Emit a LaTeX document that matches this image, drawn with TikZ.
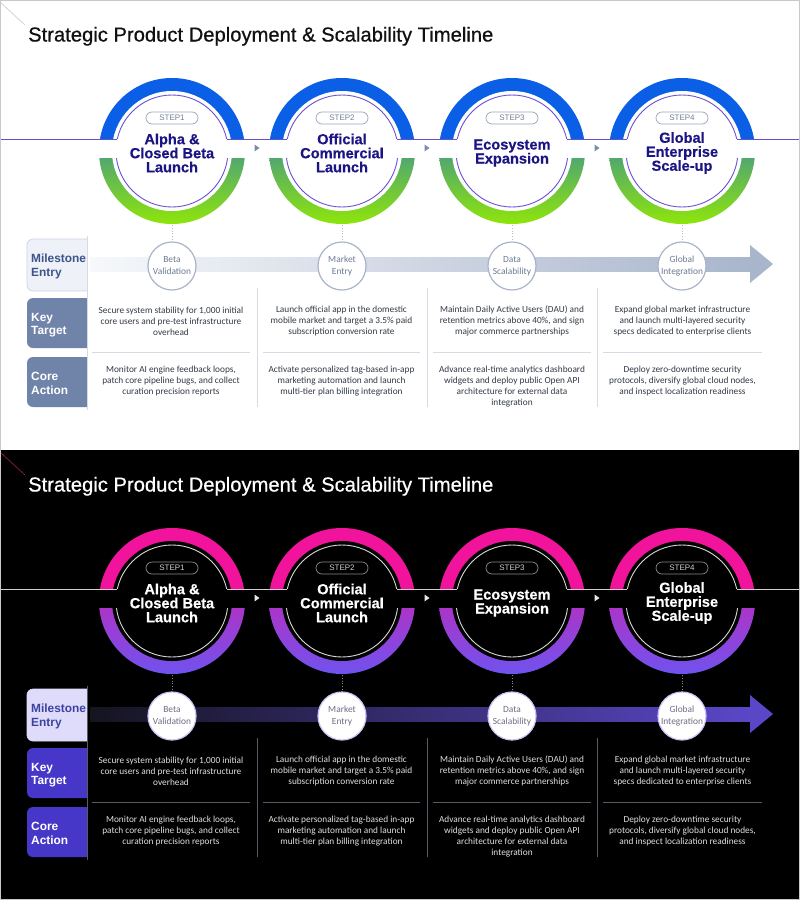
\documentclass[tikz,border=0pt]{standalone}
\usepackage{fontspec}
\setmainfont{Liberation Sans}
\newfontfamily\bodyfont{Carlito}
\newfontfamily\titlefont{Liberation Sans}[FakeBold=0.6]
\newfontfamily\headfont{Liberation Sans Bold}[FakeBold=0.4]

\tikzset{
  pill/.style={draw=pPill, line width=0.7pt, rounded corners=6pt, minimum width=52pt, minimum height=12pt, inner sep=0pt, text=pPillText, font=\fontsize{8}{9}\selectfont},
  ctitle/.style={align=center, inner sep=0pt, text=pHead, font=\headfont\fontsize{14.6}{14}\selectfont},
  mscircle/.style={circle, draw=pMsDraw, line width=1.2pt, fill=white, minimum size=48pt, inner sep=0pt, align=center, text=pMsText, font=\bodyfont\fontsize{9.4}{12}\selectfont},
  labtext/.style={anchor=west, align=left, inner sep=0pt, font=\bfseries\fontsize{11.9}{13.5}\selectfont},
  body/.style={align=center, inner sep=0pt, text=pBody, font=\bodyfont\fontsize{9.3}{11}\selectfont},
  sepline/.style={draw=pSep, line width=0.8pt},
  tline/.style={draw=pLine, line width=0.9pt},
}

\newcommand\drawpanel{%
  \fill[pBg] (0,0) rectangle (800,450);
  \draw[pDiag, line width=0.8pt] (0,2) -- (25,25);
  \node[anchor=base west, inner sep=0pt, text=pTitle, font=\titlefont\fontsize{20.2}{24}\selectfont] (title) at (28,41.5) {Strategic Product Deployment \& Scalability Timeline};
  % rings
  \foreach \i/\cx in {1/172,2/342,3/512,4/682}{
    \coordinate (c\i) at (\cx,151);
    \begin{scope}
      \clip (\cx-80,60) rectangle (\cx+80,151);
      \fill[pRingTop] (c\i) circle[radius=73];
    \end{scope}
    \begin{scope}
      \clip (\cx-80,151) rectangle (\cx+80,240);
      \shade[top color=pRingTop, middle color=pRingMid, bottom color=pRingBot] (c\i) circle[radius=73];
    \end{scope}
    \fill[pBg] (c\i) circle[radius=60];
    \draw[pInner, line width=0.9pt] (c\i) circle[radius=56];
  }
  \fill[pBg] (90,139) rectangle (770,158);
  % timeline line
  \coordinate (L0) at (0,139);
  \coordinate (R5) at (800,139);
  \foreach \i/\cx in {1/172,2/342,3/512,4/682}{
    \coordinate (L\i) at (\cx-55,139);
    \coordinate (R\i) at (\cx+55,139);
  }
  \draw[tline] (L0) -- (L1);
  \draw[tline] (R1) -- (L2);
  \draw[tline] (R2) -- (L3);
  \draw[tline] (R3) -- (L4);
  \draw[tline] (R4) -- (R5);
  \foreach \tx in {257,427,597}{
    \fill[pTri] (\tx-2.5,144.5) -- (\tx+2.5,148) -- (\tx-2.5,151.5) -- cycle;
  }
  % step pills
  \foreach \i/\cx in {1/172,2/342,3/512,4/682}{
    \node[pill] (s\i) at (\cx,118) {STEP\i};
  }
  \node[ctitle] (t1) at (172,153) {Alpha \&\\Closed Beta\\Launch};
  \node[ctitle] (t2) at (342,153) {Official\\Commercial\\Launch};
  \node[ctitle] (t3) at (512,153) {Ecosystem\\Expansion};
  \node[ctitle] (t4) at (682,153) {Global\\Enterprise\\Scale-up};
  % milestone band
  \shade[left color=pBandL, right color=pBandR] (90,257) rectangle (752,271);
  \fill[pBandR] (750,245) -- (773,264) -- (750,283) -- cycle;
  \node[mscircle] (m1) at (172,266) {Beta\\Validation};
  \node[mscircle] (m2) at (342,266) {Market\\Entry};
  \node[mscircle] (m3) at (512,266) {Data\\Scalability};
  \node[mscircle] (m4) at (682,266) {Global\\Integration};
  \foreach \i in {1,2,3,4}{
    \coordinate (b\i) at ($(c\i)+(0,74)$);
    \draw[pDot, line width=0.8pt, dotted] (b\i) -- (m\i.north);
  }
  % label boxes
  \begin{scope}
    \clip (0,200) rectangle (87,420);
    \draw[fill=pLabAFill, draw=pLabADraw, line width=0.7pt, rounded corners=6pt] (27,239) rectangle (100,291);
    \fill[pLabBFill, rounded corners=6pt] (27,298) rectangle (100,348);
    \fill[pLabBFill, rounded corners=6pt] (27,357) rectangle (100,407);
  \end{scope}
  \node[labtext, text=pLabAText] (lab1) at (31,266.5) {Milestone\\Entry};
  \node[labtext, text=pLabBText] (lab2) at (31,325) {Key\\Target};
  \node[labtext, text=pLabBText] (lab3) at (31,383.5) {Core\\Action};
  \draw[sepline] (87,236) -- (87,410);
  \foreach \sx in {257,427,597}{
    \draw[sepline] (\sx,288) -- (\sx,407);
  }
  \foreach \xa/\xb in {92/250,263/420,433/591,603/762}{
    \draw[sepline] (\xa,352) -- (\xb,352);
  }
  % key targets
  \node[body] (k1) at (171,321) {Secure system stability for 1,000 initial\\core users and pre-test infrastructure\\overhead};
  \node[body] (k2) at (341.5,321) {Launch official app in the domestic\\mobile market and target a 3.5\% paid\\subscription conversion rate};
  \node[body] (k3) at (512,321) {Maintain Daily Active Users (DAU) and\\retention metrics above 40\%, and sign\\major commerce partnerships};
  \node[body] (k4) at (682.5,321) {Expand global market infrastructure\\and launch multi-layered security\\specs dedicated to enterprise clients};
  % core actions
  \node[body, anchor=north] (a1) at (171,366) {Monitor AI engine feedback loops,\\patch core pipeline bugs, and collect\\curation precision reports};
  \node[body, anchor=north] (a2) at (341.5,366) {Activate personalized tag-based in-app\\marketing automation and launch\\multi-tier plan billing integration};
  \node[body, anchor=north] (a3) at (512,366) {Advance real-time analytics dashboard\\widgets and deploy public Open API\\architecture for external data\\integration};
  \node[body, anchor=north] (a4) at (682.5,366) {Deploy zero-downtime security\\protocols, diversify global cloud nodes,\\and inspect localization readiness};
}

\usetikzlibrary{calc}

\begin{document}
\begin{tikzpicture}[x=1pt,y=-1pt]
\useasboundingbox (0,0) rectangle (800,900);
% ---------- light panel ----------
\begin{scope}[name prefix=L-]
\definecolor{pBg}{HTML}{FFFFFF}
\definecolor{pDiag}{HTML}{D4D4D8}
\definecolor{pTitle}{HTML}{111111}
\definecolor{pRingTop}{HTML}{0B5FE6}
\definecolor{pRingMid}{HTML}{4EB25A}
\definecolor{pRingBot}{HTML}{8EE50A}
\definecolor{pInner}{HTML}{6A50D6}
\definecolor{pLine}{HTML}{6652C8}
\definecolor{pTri}{HTML}{7C8CAE}
\definecolor{pPill}{HTML}{9BA6BB}
\definecolor{pPillText}{HTML}{737E94}
\definecolor{pHead}{HTML}{1B1584}
\definecolor{pBandL}{HTML}{F6F8FB}
\definecolor{pBandR}{HTML}{A8B5CB}
\definecolor{pMsDraw}{HTML}{A9B4C9}
\definecolor{pMsText}{HTML}{6B7A93}
\definecolor{pDot}{HTML}{B4BCC8}
\definecolor{pLabAFill}{HTML}{EEF1F8}
\definecolor{pLabADraw}{HTML}{CDD4E2}
\definecolor{pLabAText}{HTML}{3C5488}
\definecolor{pLabBFill}{HTML}{7083A9}
\definecolor{pLabBText}{HTML}{FFFFFF}
\definecolor{pBody}{HTML}{333A45}
\definecolor{pSep}{HTML}{D6DBE3}
\drawpanel
\end{scope}
% ---------- dark panel ----------
\begin{scope}[shift={(0,450)}, name prefix=D-]
\definecolor{pBg}{HTML}{000000}
\definecolor{pDiag}{HTML}{7A1A45}
\definecolor{pTitle}{HTML}{FFFFFF}
\definecolor{pRingTop}{HTML}{F2139C}
\definecolor{pRingMid}{HTML}{B836D4}
\definecolor{pRingBot}{HTML}{7052EE}
\definecolor{pInner}{HTML}{D8D8D8}
\definecolor{pLine}{HTML}{D0D0D0}
\definecolor{pTri}{HTML}{E6E6E6}
\definecolor{pPill}{HTML}{8A8A8A}
\definecolor{pPillText}{HTML}{D0D0D0}
\definecolor{pHead}{HTML}{FFFFFF}
\definecolor{pBandL}{HTML}{151420}
\definecolor{pBandR}{HTML}{5A47C8}
\definecolor{pMsDraw}{HTML}{C9C0F5}
\definecolor{pMsText}{HTML}{6E6E84}
\definecolor{pDot}{HTML}{8A8A8A}
\definecolor{pLabAFill}{HTML}{DEDCFA}
\definecolor{pLabADraw}{HTML}{DEDCFA}
\definecolor{pLabAText}{HTML}{3D42A0}
\definecolor{pLabBFill}{HTML}{4637C9}
\definecolor{pLabBText}{HTML}{FFFFFF}
\definecolor{pBody}{HTML}{E0E0E0}
\definecolor{pSep}{HTML}{5A5A66}
\drawpanel
\end{scope}
\draw[color={rgb,255:red,200;green,200;blue,200}, line width=1pt] (0.5,0.5) rectangle (799.5,899.5);
\end{tikzpicture}
\end{document}
